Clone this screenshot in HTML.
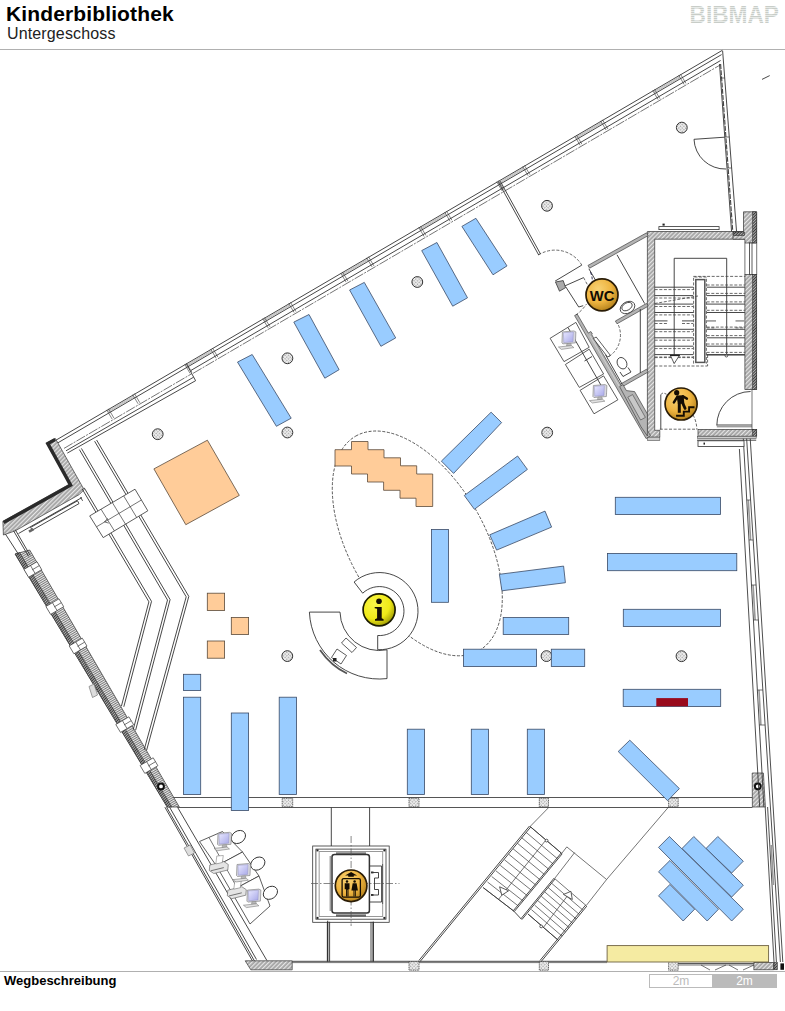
<!DOCTYPE html>
<html><head><meta charset="utf-8"><title>Kinderbibliothek</title><style>
html,body{margin:0;padding:0;background:#fff}
body{width:785px;height:1011px;position:relative;overflow:hidden;font-family:"Liberation Sans",sans-serif;color:#000}
.t1{position:absolute;left:6px;top:2px;letter-spacing:0.13px;font-size:21px;font-weight:bold;line-height:24px;white-space:nowrap;color:#000}
.t2{position:absolute;left:7px;top:25px;letter-spacing:0.14px;font-size:16px;line-height:18px;white-space:nowrap;color:#222}
.logo{position:absolute;left:689px;top:1px;font-size:24px;line-height:27px;letter-spacing:-0.1px;color:#d9dcd9;white-space:nowrap}
.hl{position:absolute;left:0;width:785px;height:1px;background:#b0b0b0}
.t3{position:absolute;left:4px;top:973px;font-size:13px;font-weight:bold;line-height:15px;white-space:nowrap;color:#000}
.sc{position:absolute;top:974px;height:12px;font-size:12px;line-height:13px;text-align:center;box-sizing:content-box}
.sc1{left:649px;width:62px;border:1px solid #bbb;background:#fff;color:#bbb}
.sc2{left:712px;width:63px;border:1px solid #bbb;background:#bbb;color:#fff}
svg{position:absolute;left:0;top:0}
.ln{stroke:#333;stroke-width:0.9;fill:none}
.lne{stroke:#2e2e2e;stroke-width:0.85;fill:none}
.lnh{stroke:#555;stroke-width:1;fill:none}
.lnt{stroke:#3a3a3a;stroke-width:0.7;fill:none}
.lng{stroke:#999;stroke-width:1.6;fill:none}
.lnd{stroke:#444;stroke-width:0.8;fill:none;stroke-dasharray:3 1.6}
.lndd{stroke:#555;stroke-width:0.7;fill:none;stroke-dasharray:7 2 1.5 2}
.lndd2{stroke:#3a3a3a;stroke-width:0.7;fill:none;stroke-dasharray:10 1.2 2 1.2}
.lnm{stroke:#333;stroke-width:0.6;fill:none}
.lnf{stroke:#777;stroke-width:0.5;fill:none}
.lnp{stroke:#333;stroke-width:0.8;fill:#fff}
.lnw{stroke:#333;stroke-width:0.9;fill:#fff}
.wall{fill:url(#hat);stroke:#333;stroke-width:0.7}
.wallw{fill:url(#hatw);stroke:#333;stroke-width:0.7}
.wallc{fill:url(#hatx);stroke:#444;stroke-width:0.8;stroke-dasharray:1.2 0.6}
.wallg{fill:#ccc;stroke:#555;stroke-width:0.6}
.wallgr{fill:#b4b4b4;stroke:#444;stroke-width:0.7}
.wbrick{fill:url(#hatd);stroke:#222;stroke-width:0.5}
.wdark{stroke:#2a2a2a;stroke-width:3.4;fill:none;stroke-linejoin:miter}
.wbox{fill:#fff;stroke:#333;stroke-width:0.7}
.wboxw{fill:#c8c8c8;stroke:#444;stroke-width:0.6}
.wboxg{fill:#ddd;stroke:#666;stroke-width:0.6}
.col{fill:url(#hatx);stroke:#333;stroke-width:1}
.bl{fill:#99ccff;stroke:#3a4a66;stroke-width:0.8}
.or{fill:#ffcc99;stroke:#5a4a3a;stroke-width:0.8}
.ye{fill:#f5eba2;stroke:#6e6242;stroke-width:0.9}
</style></head>
<body>
<div class="t1">Kinderbibliothek</div>
<div class="t2">Untergeschoss</div>
<div class="hl" style="top:49px"></div>
<div class="hl" style="top:971px"></div>
<svg width="785" height="1011" viewBox="0 0 785 1011">
<defs>
<pattern id="hat" width="3" height="3" patternUnits="userSpaceOnUse" patternTransform="rotate(45)">
<rect width="3" height="3" fill="#a4a4a4"/><rect width="1.2" height="3" fill="#e6e6e6"/></pattern>
<pattern id="hatx" width="2.4" height="2.4" patternUnits="userSpaceOnUse" patternTransform="rotate(45)">
<rect width="2.4" height="2.4" fill="#a8a8a8"/><rect width="1.1" height="2.4" fill="#eee"/><rect width="2.4" height="1.1" fill="#eee"/></pattern>
<pattern id="hatw" width="2" height="2" patternUnits="userSpaceOnUse" patternTransform="rotate(-31)">
<rect width="2" height="2" fill="#ececec"/><rect width="2" height="0.85" fill="#666"/></pattern>
<pattern id="hatd" width="2" height="2" patternUnits="userSpaceOnUse" patternTransform="rotate(45)">
<rect width="2" height="2" fill="#bdbdbd"/><rect width="1.1" height="2" fill="#3a3a3a"/></pattern>
<radialGradient id="gold" cx="0.38" cy="0.32" r="0.75">
<stop offset="0" stop-color="#f8d274"/><stop offset="0.55" stop-color="#eeb440"/><stop offset="1" stop-color="#ac7a16"/></radialGradient>
<radialGradient id="yel" cx="0.36" cy="0.32" r="0.78">
<stop offset="0" stop-color="#fbf748"/><stop offset="0.6" stop-color="#f0ea18"/><stop offset="1" stop-color="#8e8a00"/></radialGradient>
<pattern id="stripe" width="4" height="2" patternUnits="userSpaceOnUse"><rect width="4" height="2" fill="#e8ebe8"/><rect width="4" height="1" y="0" fill="#c8cdc8"/></pattern>
<linearGradient id="mon" x1="0" y1="0" x2="1" y2="1"><stop offset="0" stop-color="#e8e8ff"/><stop offset="1" stop-color="#a8a8e8"/></linearGradient>
</defs>
<line x1="55.4" y1="440.5" x2="722.2" y2="50.4" class="ln" />
<line x1="56.9" y1="443.4" x2="721.6" y2="54.6" class="ln" />
<line x1="191.0" y1="370.4" x2="720.6" y2="60.5" class="ln" />
<line x1="193.0" y1="373.4" x2="719.8" y2="65.2" class="lndd2" />
<line x1="64.0" y1="448.4" x2="191.8" y2="373.7" class="lndd2" />
<line x1="66.0" y1="450.8" x2="193.6" y2="377.2" class="ln" />
<line x1="67.3" y1="453.1" x2="195.6" y2="380.7" class="ln" />
<line x1="186.4" y1="363.8" x2="195.6" y2="380.7" class="ln" />
<line x1="106.7" y1="409.9" x2="112.1" y2="419.0" class="lnm" />
<line x1="108.5" y1="408.8" x2="113.9" y2="418.0" class="lnm" />
<line x1="132.7" y1="394.7" x2="138.1" y2="403.8" class="lnm" />
<line x1="134.5" y1="393.6" x2="139.9" y2="402.8" class="lnm" />
<line x1="108.0" y1="411.0" x2="134.0" y2="395.8" class="lnf" />
<line x1="108.0" y1="412.2" x2="134.0" y2="397.0" class="lnf" />
<line x1="184.7" y1="364.2" x2="190.1" y2="373.4" class="lnm" />
<line x1="186.5" y1="363.2" x2="191.9" y2="372.3" class="lnm" />
<line x1="210.7" y1="349.0" x2="216.1" y2="358.2" class="lnm" />
<line x1="212.5" y1="348.0" x2="217.9" y2="357.1" class="lnm" />
<line x1="186.0" y1="365.4" x2="212.0" y2="350.2" class="lnf" />
<line x1="186.0" y1="366.6" x2="212.0" y2="351.4" class="lnf" />
<line x1="262.7" y1="318.6" x2="268.1" y2="327.8" class="lnm" />
<line x1="264.5" y1="317.6" x2="269.9" y2="326.7" class="lnm" />
<line x1="288.7" y1="303.4" x2="294.1" y2="312.5" class="lnm" />
<line x1="290.5" y1="302.3" x2="295.9" y2="311.5" class="lnm" />
<line x1="264.0" y1="319.7" x2="290.0" y2="304.5" class="lnf" />
<line x1="264.0" y1="320.9" x2="290.0" y2="305.7" class="lnf" />
<line x1="340.7" y1="273.0" x2="346.1" y2="282.1" class="lnm" />
<line x1="342.5" y1="271.9" x2="347.9" y2="281.1" class="lnm" />
<line x1="366.7" y1="257.8" x2="372.1" y2="266.9" class="lnm" />
<line x1="368.5" y1="256.7" x2="373.9" y2="265.9" class="lnm" />
<line x1="342.0" y1="274.1" x2="368.0" y2="258.9" class="lnf" />
<line x1="342.0" y1="275.3" x2="368.0" y2="260.1" class="lnf" />
<line x1="418.7" y1="227.3" x2="424.1" y2="236.5" class="lnm" />
<line x1="420.5" y1="226.3" x2="425.9" y2="235.4" class="lnm" />
<line x1="444.7" y1="212.1" x2="450.1" y2="221.3" class="lnm" />
<line x1="446.5" y1="211.1" x2="451.9" y2="220.2" class="lnm" />
<line x1="420.0" y1="228.5" x2="446.0" y2="213.3" class="lnf" />
<line x1="420.0" y1="229.7" x2="446.0" y2="214.5" class="lnf" />
<line x1="496.7" y1="181.7" x2="502.1" y2="190.9" class="lnm" />
<line x1="498.5" y1="180.7" x2="503.9" y2="189.8" class="lnm" />
<line x1="522.7" y1="166.5" x2="528.1" y2="175.7" class="lnm" />
<line x1="524.5" y1="165.5" x2="529.9" y2="174.6" class="lnm" />
<line x1="498.0" y1="182.9" x2="524.0" y2="167.6" class="lnf" />
<line x1="498.0" y1="184.1" x2="524.0" y2="168.8" class="lnf" />
<line x1="574.7" y1="136.1" x2="580.1" y2="145.2" class="lnm" />
<line x1="576.5" y1="135.0" x2="581.9" y2="144.2" class="lnm" />
<line x1="600.7" y1="120.9" x2="606.1" y2="130.0" class="lnm" />
<line x1="602.5" y1="119.8" x2="607.9" y2="129.0" class="lnm" />
<line x1="576.0" y1="137.2" x2="602.0" y2="122.0" class="lnf" />
<line x1="576.0" y1="138.4" x2="602.0" y2="123.2" class="lnf" />
<line x1="652.7" y1="90.5" x2="658.1" y2="99.6" class="lnm" />
<line x1="654.5" y1="89.4" x2="659.9" y2="98.6" class="lnm" />
<line x1="678.7" y1="75.2" x2="684.1" y2="84.4" class="lnm" />
<line x1="680.5" y1="74.2" x2="685.9" y2="83.3" class="lnm" />
<line x1="654.0" y1="91.6" x2="680.0" y2="76.4" class="lnf" />
<line x1="654.0" y1="92.8" x2="680.0" y2="77.6" class="lnf" />
<line x1="722.6" y1="50.6" x2="736.6" y2="232.3" class="ln" />
<line x1="719.5" y1="64.0" x2="731.6" y2="232.0" class="ln" />
<line x1="720.6" y1="64.0" x2="732.8" y2="232.0" class="" stroke="#444" stroke-width="1.1" stroke-dasharray="5 1.2" fill="none"/>
<line x1="721.3" y1="78.0" x2="724.9" y2="78.0" class="lnt" />
<line x1="725.2" y1="137.0" x2="729.5" y2="137.0" class="lnt" />
<line x1="727.3" y1="168.0" x2="731.8" y2="168.0" class="lnt" />
<line x1="694.0" y1="139.3" x2="724.6" y2="137.2" class="ln" />
<path d="M694.0,139.3 A31,31 0 0 0 726.0,169.0" class="ln" fill="none"/>
<line x1="762.0" y1="79.4" x2="769.7" y2="75.6" class="ln" />
<line x1="498.5" y1="182.3" x2="538.7" y2="255.0" class="ln" />
<line x1="500.3" y1="181.3" x2="540.5" y2="254.0" class="ln" />
<line x1="538.2" y1="254.9" x2="540.9" y2="253.6" class="ln" />
<path d="M581.8,265.1 A31.2,31.2 0 0 0 541.2,253.4" class="lnd" fill="none"/>
<polygon points="46.4,442.9 55.4,438.5 84.1,489.7 79.3,494.5 15.3,530.8 3.4,535.0 2.9,521.3 69.7,484.0" class="wall" />
<polyline points="3.6,522.6 70.6,485.2 47.8,443.6 55.2,439.6" class="wdark" />
<line x1="80.5" y1="497.2" x2="82.6" y2="500.8" class="ln" />
<polyline points="18.5,533.5 82.0,497.5" class="ln" />
<polyline points="30.5,527.5 77.5,500.8 79.0,503.6 32.5,530.0 30.5,527.5" class="ln" />
<polyline points="29.0,531.6 33.5,529.1" class="" stroke="#666" stroke-width="2.6" fill="none"/>
<polygon points="15.1,554.0 29.7,550.0 179.3,807.0 167.2,807.0" class="wallw" />
<polygon points="15.1,554.0 19.7,552.6 171.8,807.0 167.2,807.0" class="wbrick" />
<line x1="5.4" y1="534.0" x2="18.7" y2="554.6" class="ln" />
<line x1="13.4" y1="530.5" x2="28.6" y2="556.4" class="ln" />
<line x1="15.2" y1="529.6" x2="30.2" y2="555.4" class="ln" />
<polygon points="23.9,569.4 37.0,561.7 41.7,569.6 28.6,577.3" class="wbox" />
<line x1="30.5" y1="565.5" x2="35.1" y2="573.5" class="lnt" />
<line x1="32.1" y1="569.9" x2="39.3" y2="565.6" class="lnt" />
<polygon points="45.9,606.5 59.0,598.8 63.7,606.7 50.6,614.4" class="wbox" />
<line x1="52.4" y1="602.6" x2="57.1" y2="610.6" class="lnt" />
<line x1="54.1" y1="607.0" x2="61.3" y2="602.7" class="lnt" />
<polygon points="69.2,645.9 82.3,638.2 87.0,646.1 73.9,653.8" class="wbox" />
<line x1="75.8" y1="642.0" x2="80.5" y2="650.0" class="lnt" />
<line x1="77.5" y1="646.4" x2="84.7" y2="642.1" class="lnt" />
<polygon points="115.8,724.5 128.9,716.8 133.6,724.7 120.5,732.4" class="wbox" />
<line x1="122.4" y1="720.6" x2="127.0" y2="728.6" class="lnt" />
<line x1="124.0" y1="725.0" x2="131.2" y2="720.7" class="lnt" />
<polygon points="140.1,765.5 153.2,757.8 157.9,765.7 144.8,773.4" class="wbox" />
<line x1="146.6" y1="761.6" x2="151.3" y2="769.6" class="lnt" />
<line x1="148.3" y1="766.0" x2="155.5" y2="761.7" class="lnt" />
<polygon points="89.0,686.5 94.0,684.0 97.5,695.0 92.5,697.5" class="wboxg" />
<circle cx="161.0" cy="786.4" r="2.9" class="" fill="#fff" stroke="#111" stroke-width="2"/>
<line x1="164.9" y1="807.2" x2="252.5" y2="961.0" class="ln" />
<line x1="166.6" y1="807.2" x2="254.5" y2="961.0" class="ln" />
<line x1="169.6" y1="807.2" x2="256.5" y2="959.5" class="ln" />
<line x1="177.5" y1="807.2" x2="266.9" y2="960.5" class="ln" />
<polygon points="184.0,848.0 190.0,845.0 194.5,853.0 188.5,856.0" class="wboxg" />
<polygon points="245.2,960.8 292.2,960.8 292.2,969.8 250.8,969.8" class="wall" />
<polyline points="84.2,487.8 151.5,601.4 123.8,706.8" class="ln" />
<polyline points="82.2,489.0 148.9,601.8 121.4,706.2" class="ln" />
<polyline points="81.4,448.4 170.1,599.6 135.6,730.3" class="ln" />
<polyline points="79.4,449.6 167.5,600.0 133.2,729.7" class="ln" />
<polyline points="96.6,440.0 188.8,596.4 146.6,750.3" class="ln" />
<polyline points="94.6,441.2 186.2,596.8 144.2,749.7" class="ln" />
<polygon points="89.7,515.9 135.0,489.2 147.8,510.8 103.2,537.6" class="lnp" />
<line x1="96.5" y1="526.8" x2="141.4" y2="500.0" class="lnt" />
<line x1="101.0" y1="509.2" x2="114.4" y2="530.9" class="lnt" />
<line x1="112.3" y1="502.5" x2="125.5" y2="524.2" class="lnt" />
<line x1="123.7" y1="495.9" x2="136.7" y2="517.5" class="lnt" />
<polyline points="107.7,518.3 104.5,521.9 108.7,523.1" class="lnt" />
<line x1="173.0" y1="797.5" x2="752.5" y2="797.5" class="lnh" />
<line x1="178.0" y1="807.5" x2="752.5" y2="807.5" class="lnh" />
<rect x="282.2" y="798.2" width="10.5" height="8.6" class="wallc" />
<rect x="409.0" y="798.2" width="10.0" height="8.6" class="wallc" />
<rect x="539.3" y="798.2" width="9.2" height="8.6" class="wallc" />
<rect x="668.6" y="798.2" width="9.6" height="8.6" class="wallc" />
<polygon points="752.2,773.0 763.4,773.0 765.4,807.0 752.4,807.0" class="wall" />
<circle cx="757.8" cy="786.3" r="2.9" class="" fill="#fff" stroke="#111" stroke-width="2"/>
<line x1="292.2" y1="961.3" x2="668.6" y2="961.3" class="ln" />
<line x1="292.2" y1="962.6" x2="607.0" y2="962.6" class="lnt" />
<rect x="409.0" y="961.6" width="10.0" height="8.6" class="wallc" />
<rect x="539.3" y="961.6" width="9.2" height="8.6" class="wallc" />
<rect x="668.6" y="961.6" width="9.6" height="8.6" class="wallc" />
<rect x="753.9" y="962.4" width="19.7" height="7.4" class="wall" />
<rect x="774.0" y="962.4" width="3.4" height="7.4" class="wbrick" />
<rect x="780.4" y="963.4" width="3.6" height="6.4" class="" fill="#111"/>
<line x1="678.2" y1="963.6" x2="753.8" y2="963.6" class="ln" />
<line x1="678.2" y1="965.0" x2="753.8" y2="965.0" class="lnt" />
<polyline points="701.0,965.0 710.0,970.0" class="lnt" />
<polyline points="726.0,965.0 715.0,970.0" class="lnt" />
<polyline points="729.0,965.0 738.0,970.0" class="lnt" />
<polyline points="754.0,965.0 743.0,970.0" class="lnt" />
<line x1="739.4" y1="449.0" x2="759.7" y2="807.0" class="lne" />
<line x1="743.2" y1="436.5" x2="763.9" y2="807.0" class="lne" />
<line x1="746.5" y1="436.5" x2="780.4" y2="962.0" class="lne" />
<line x1="750.1" y1="436.5" x2="782.8" y2="962.0" class="lne" />
<line x1="765.2" y1="807.0" x2="774.0" y2="962.0" class="lne" />
<line x1="767.6" y1="807.0" x2="776.4" y2="962.0" class="lne" />
<line x1="748.3" y1="500.0" x2="750.6" y2="540.0" class="lng" />
<line x1="746.7" y1="500.0" x2="750.6" y2="500.0" class="lnt" />
<line x1="749.0" y1="540.0" x2="753.2" y2="540.0" class="lnt" />
<line x1="753.1" y1="585.0" x2="755.1" y2="620.0" class="lng" />
<line x1="751.5" y1="585.0" x2="756.1" y2="585.0" class="lnt" />
<line x1="753.5" y1="620.0" x2="758.3" y2="620.0" class="lnt" />
<line x1="759.0" y1="690.0" x2="760.9" y2="725.0" class="lng" />
<line x1="757.4" y1="690.0" x2="762.9" y2="690.0" class="lnt" />
<line x1="759.3" y1="725.0" x2="765.1" y2="725.0" class="lnt" />
<line x1="771.2" y1="845.0" x2="773.4" y2="885.0" class="lng" />
<polygon points="647.4,231.5 744.9,231.5 744.9,239.2 654.7,239.2 654.7,430.3 659.8,430.3 659.8,437.2 647.4,437.2" class="wall" />
<rect x="647.4" y="437.2" width="12.4" height="3.4" class="wallg" />
<polygon points="743.5,211.8 756.7,211.8 756.7,243.0 744.9,243.0 744.9,239.2 733.0,239.2 733.0,231.5 743.5,231.5" class="wall" />
<rect x="744.9" y="274.5" width="11.8" height="115.1" class="wall" />
<rect x="752.6" y="211.8" width="4.1" height="31.2" class="wbrick" />
<rect x="752.6" y="274.5" width="4.1" height="115.1" class="wbrick" />
<rect x="733.5" y="232.0" width="11.0" height="3.6" class="wbrick" />
<line x1="744.9" y1="243.0" x2="744.9" y2="274.5" class="lnt" />
<line x1="756.7" y1="243.0" x2="756.7" y2="274.5" class="lnt" />
<rect x="749.6" y="243.0" width="2.4" height="31.5" class="lnp" />
<rect x="698.0" y="429.4" width="58.7" height="6.8" class="wall" />
<rect x="752.6" y="429.4" width="4.1" height="6.8" class="wbrick" />
<rect x="697.4" y="436.4" width="58.8" height="2.2" class="wallg" />
<line x1="697.0" y1="440.2" x2="756.2" y2="440.2" class="ln" />
<rect x="698.0" y="440.8" width="46.0" height="5.8" class="lnp" />
<rect x="703.5" y="442.6" width="1.5" height="2.0" class="" fill="#222"/>
<rect x="658.9" y="226.6" width="60.2" height="3.0" class="lnp" />
<rect x="662.5" y="223.6" width="2.2" height="2.0" class="" fill="#222"/>
<polyline points="674.2,363.0 674.2,258.3 726.7,258.3 726.7,355.0" class="ln" />
<polyline points="693.6,363.6 693.6,277.0 706.4,277.0 706.4,363.6" class="lnd" />
<rect x="695.8" y="279.6" width="9.0" height="82.8" class="" fill="#fff" stroke="#555" stroke-width="1.5"/>
<line x1="693.3" y1="276.4" x2="744.9" y2="276.4" class="lnd" />
<line x1="654.7" y1="287.2" x2="693.3" y2="287.2" class="ln" />
<line x1="654.7" y1="289.6" x2="693.3" y2="289.6" class="lnd" />
<line x1="706.7" y1="287.2" x2="744.9" y2="287.2" class="ln" />
<line x1="706.7" y1="285.0" x2="744.9" y2="285.0" class="lnd" />
<line x1="654.7" y1="295.6" x2="693.3" y2="295.6" class="ln" />
<line x1="654.7" y1="298.0" x2="693.3" y2="298.0" class="lnd" />
<line x1="706.7" y1="295.6" x2="744.9" y2="295.6" class="ln" />
<line x1="706.7" y1="293.4" x2="744.9" y2="293.4" class="lnd" />
<line x1="654.7" y1="304.1" x2="693.3" y2="304.1" class="ln" />
<line x1="654.7" y1="306.5" x2="693.3" y2="306.5" class="lnd" />
<line x1="706.7" y1="304.1" x2="744.9" y2="304.1" class="ln" />
<line x1="706.7" y1="301.9" x2="744.9" y2="301.9" class="lnd" />
<line x1="654.7" y1="312.5" x2="693.3" y2="312.5" class="ln" />
<line x1="654.7" y1="314.9" x2="693.3" y2="314.9" class="lnd" />
<line x1="706.7" y1="312.5" x2="744.9" y2="312.5" class="ln" />
<line x1="706.7" y1="310.3" x2="744.9" y2="310.3" class="lnd" />
<line x1="654.7" y1="320.9" x2="667.5" y2="320.9" class="ln" />
<line x1="682.0" y1="320.9" x2="693.3" y2="320.9" class="ln" />
<line x1="654.7" y1="323.5" x2="667.5" y2="323.5" class="lnd" />
<line x1="682.0" y1="323.5" x2="693.3" y2="323.5" class="lnd" />
<line x1="706.7" y1="320.9" x2="716.0" y2="320.9" class="lng" />
<line x1="735.5" y1="320.9" x2="744.9" y2="320.9" class="lng" />
<line x1="706.7" y1="327.9" x2="716.0" y2="327.9" class="lnd" />
<line x1="735.5" y1="327.9" x2="744.9" y2="327.9" class="lnd" />
<line x1="654.7" y1="329.3" x2="693.3" y2="329.3" class="ln" />
<line x1="654.7" y1="331.7" x2="693.3" y2="331.7" class="lnd" />
<line x1="706.7" y1="329.3" x2="744.9" y2="329.3" class="ln" />
<line x1="706.7" y1="327.1" x2="744.9" y2="327.1" class="lnd" />
<line x1="654.7" y1="337.8" x2="693.3" y2="337.8" class="ln" />
<line x1="654.7" y1="340.2" x2="693.3" y2="340.2" class="lnd" />
<line x1="706.7" y1="337.8" x2="744.9" y2="337.8" class="ln" />
<line x1="706.7" y1="335.6" x2="744.9" y2="335.6" class="lnd" />
<line x1="654.7" y1="346.2" x2="693.3" y2="346.2" class="ln" />
<line x1="654.7" y1="348.6" x2="693.3" y2="348.6" class="lnd" />
<line x1="706.7" y1="346.2" x2="744.9" y2="346.2" class="ln" />
<line x1="706.7" y1="344.0" x2="744.9" y2="344.0" class="lnd" />
<line x1="654.7" y1="354.6" x2="693.3" y2="354.6" class="ln" />
<line x1="654.7" y1="357.0" x2="693.3" y2="357.0" class="lnd" />
<line x1="706.7" y1="354.6" x2="744.9" y2="354.6" class="ln" />
<line x1="706.7" y1="352.4" x2="744.9" y2="352.4" class="lnd" />
<line x1="654.7" y1="357.6" x2="693.3" y2="357.6" class="lnd" />
<line x1="654.7" y1="366.0" x2="707.6" y2="366.0" class="lnd" />
<line x1="707.6" y1="355.0" x2="707.6" y2="366.0" class="lnd" />
<line x1="654.7" y1="303.5" x2="698.0" y2="296.0" class="lnd" />
<polygon points="670.4,355.4 679.4,355.4 674.2,363.6" class="lnp" />
<line x1="670.0" y1="355.4" x2="679.8" y2="355.4" class="" stroke="#222" stroke-width="1.4"/>
<circle cx="726.4" cy="355.6" r="1.4" class="lnp" />
<line x1="706.7" y1="355.0" x2="744.9" y2="355.0" class="ln" />
<path d="M750.6,391.5 A34,34 0 0 0 716.8,425.5" class="ln" fill="none"/>
<line x1="716.8" y1="425.0" x2="752.0" y2="425.0" class="ln" />
<line x1="716.8" y1="426.8" x2="752.0" y2="426.8" class="lnt" />
<line x1="752.0" y1="389.6" x2="752.0" y2="429.4" class="lnt" />
<line x1="659.8" y1="429.2" x2="697.0" y2="429.2" class="lnd" />
<line x1="660.8" y1="395.0" x2="660.8" y2="429.4" class="ln" />
<path d="M660.8,395.0 C661.5,392.6 664,392.8 666.5,394.2" class="lnd" fill="none"/>
<path d="M693.0,415.0 C695.5,419 696.5,424 697.0,429.4" class="lnd" fill="none"/>
<polygon points="589.6,268.2 648.2,235.6 646.6,232.8 588.0,265.4" class="wallgr" />
<polygon points="617.0,323.8 648.2,306.2 646.6,303.4 615.4,321.0" class="wallgr" />
<polygon points="620.8,387.6 648.2,372.0 646.6,369.2 619.2,384.8" class="wallgr" />
<polygon points="574.6,315.6 577.2,314.0 588.3,333.1 590.9,331.5 592.4,334.1 591.7,334.6 623.3,389.0 650.5,435.7 646.1,438.6" class="wallgr" />
<line x1="589.8" y1="335.6" x2="620.5" y2="388.3" class="" stroke="#eee" stroke-width="0.5"/>
<polygon points="619.6,386.6 623.0,384.6 626.4,390.6 634.6,391.6 647.4,414.0 647.4,436.0 641.0,426.8" class="wallgr" />
<polygon points="627.8,397.2 632.6,394.6 645.4,417.4 640.6,420.0" class="wboxw" />
<line x1="617.0" y1="254.8" x2="644.7" y2="303.6" class="ln" />
<line x1="588.9" y1="268.8" x2="603.0" y2="293.0" class="ln" />
<line x1="640.3" y1="309.0" x2="640.3" y2="373.0" class="ln" />
<line x1="622.0" y1="384.0" x2="605.5" y2="354.8" class="ln" />
<polygon points="593.4,338.6 596.2,337.0 610.4,355.4 607.6,357.0" class="lnp" />
<path d="M618.4,325.1 A25.5,25.5 0 0 1 608.8,356.6" class="lnd" fill="none"/>
<path d="M590.5,272.0 C592.5,277 592.8,281 591.5,286.0" class="lnd" fill="none" style="stroke:#335;stroke-width:1"/>
<path d="M575.9,315.0 C580,312 584,308 586.5,304.0" class="lnd" fill="none"/>
<line x1="555.1" y1="281.1" x2="581.8" y2="265.1" class="ln" />
<line x1="563.5" y1="286.5" x2="583.6" y2="277.6" class="ln" />
<line x1="583.6" y1="277.6" x2="587.6" y2="285.1" class="lnd" />
<polyline points="565.8,286.9 578.7,307.0 583.2,305.7" class="ln" />
<polygon points="555.5,282.0 563.2,280.6 565.6,287.6 559.5,291.2" class="" fill="#aaa" stroke="#333" stroke-width="0.8"/>
<ellipse cx="627.5" cy="307.5" rx="7.8" ry="5.6" transform="rotate(-30 627.5 307.5)" class="lnp"/>
<ellipse cx="627.0" cy="306.6" rx="5.6" ry="3.6" transform="rotate(-30 627.0 306.6)" class="lnp"/>
<ellipse cx="622.0" cy="363.2" rx="4.6" ry="6.0" transform="rotate(-28 622.0 363.2)" class="lnp"/>
<polyline points="620.0,372.0 623.0,376.5 631.0,372.0 628.0,367.5" class="ln" />
<polygon points="550.1,338.3 575.9,322.4 589.2,347.3 564.0,361.6" class="lnp" />
<polygon points="565.4,364.5 589.2,349.2 603.6,374.0 579.3,387.4" class="lnp" />
<polygon points="580.1,390.3 603.6,375.9 617.9,399.8 594.0,413.8" class="lnp" />
<line x1="568.0" y1="327.5" x2="606.0" y2="394.0" class="ln" />
<line x1="584.5" y1="361.0" x2="592.0" y2="356.5" class="ln" />
<g transform="translate(568.4 339.4) scale(1.00)">
<path d="M-6,-7.5 L5.5,-8.5 L7.5,-7.5 L7,3.5 L-5.5,4.5 L-6.5,3.5 Z" fill="#d8d8e0" stroke="#777" stroke-width="0.6"/>
<path d="M-5,-6.6 L5,-7.4 L4.6,2.4 L-4.6,3.2 Z" fill="url(#mon)" stroke="#8888bb" stroke-width="0.4"/>
<path d="M-1.5,4.2 L2.5,3.9 L3.0,6.4 L-2,6.8 Z" fill="#bbb" stroke="#777" stroke-width="0.4"/>
<path d="M-10,7.6 L3,6.2 L5.5,8.2 L-7,10.0 Z" fill="#e2e2e2" stroke="#666" stroke-width="0.5"/>
</g>
<g transform="translate(599.4 393.0) scale(1.00)">
<path d="M-6,-7.5 L5.5,-8.5 L7.5,-7.5 L7,3.5 L-5.5,4.5 L-6.5,3.5 Z" fill="#d8d8e0" stroke="#777" stroke-width="0.6"/>
<path d="M-5,-6.6 L5,-7.4 L4.6,2.4 L-4.6,3.2 Z" fill="url(#mon)" stroke="#8888bb" stroke-width="0.4"/>
<path d="M-1.5,4.2 L2.5,3.9 L3.0,6.4 L-2,6.8 Z" fill="#bbb" stroke="#777" stroke-width="0.4"/>
<path d="M-10,7.6 L3,6.2 L5.5,8.2 L-7,10.0 Z" fill="#e2e2e2" stroke="#666" stroke-width="0.5"/>
</g>
<circle cx="681.8" cy="127.6" r="5.4" class="col" />
<circle cx="547.0" cy="205.8" r="5.4" class="col" />
<circle cx="417.3" cy="282.0" r="5.4" class="col" />
<circle cx="287.4" cy="358.3" r="5.4" class="col" />
<circle cx="157.7" cy="434.2" r="5.4" class="col" />
<circle cx="287.4" cy="432.5" r="5.4" class="col" />
<circle cx="547.2" cy="432.6" r="5.4" class="col" />
<circle cx="287.3" cy="656.1" r="5.4" class="col" />
<circle cx="546.5" cy="656.1" r="5.4" class="col" />
<circle cx="681.5" cy="656.2" r="5.4" class="col" />
<ellipse cx="417.3" cy="543.4" rx="123.7" ry="67.5" transform="rotate(-119.9 417.3 543.4)" class="lnd" fill="none"/>
<circle cx="379.4" cy="611.1" r="38.6" class="" fill="#fff"/>
<path d="M354.1,582.0 A38.6,38.6 0 1 1 377.7,649.7 L377.7,635.5 A24.5,24.5 0 1 0 362.7,593.2 Z" class="lnw"/>
<path d="M309.4,612.1 A70,70 0 0 0 387.0,678.6 L387.0,649.8 A39.4,39.4 0 0 1 340.0,612.1 Z" class="lnw"/>
<polygon points="341.5,643.0 346.0,638.0 356.5,647.5 352.0,652.5" class="lnp" />
<polygon points="331.5,657.5 337.0,649.0 346.5,655.5 341.0,664.0" class="lnp" />
<rect x="333.0" y="658.0" width="3.5" height="3.5" class="" fill="#222"/>
<path d="M320.0,650.0 Q331,666 347.0,673.5" fill="none" stroke="#555" stroke-width="1.8"/>
<line x1="331.3" y1="807.5" x2="331.3" y2="846.0" class="ln" />
<line x1="369.6" y1="807.5" x2="369.6" y2="846.0" class="ln" />
<rect x="312.7" y="846.0" width="76.5" height="76.3" class="lnp" />
<rect x="315.9" y="849.1" width="70.1" height="70.1" class="lnp" />
<rect x="319.1" y="851.7" width="63.7" height="64.9" class="" fill="none" stroke="#555" stroke-width="0.6"/>
<rect x="332.0" y="854.6" width="37.4" height="58.3" class="" rx="2.5" fill="#fff" stroke="#333" stroke-width="1.5"/>
<line x1="336.0" y1="853.2" x2="366.0" y2="853.2" class="" stroke="#666" stroke-width="1.6"/>
<line x1="336.0" y1="915.6" x2="366.0" y2="915.6" class="" stroke="#666" stroke-width="2.4"/>
<line x1="330.2" y1="856.0" x2="330.2" y2="911.0" class="lnt" />
<rect x="316.5" y="849.4" width="2.0" height="2.0" class="" fill="#222"/>
<rect x="383.4" y="849.4" width="2.0" height="2.0" class="" fill="#222"/>
<rect x="316.5" y="916.9" width="2.0" height="2.0" class="" fill="#222"/>
<rect x="383.4" y="916.9" width="2.0" height="2.0" class="" fill="#222"/>
<line x1="311.0" y1="883.5" x2="399.5" y2="883.5" class="lndd" />
<line x1="351.1" y1="836.0" x2="351.1" y2="926.0" class="lndd" />
<polyline points="369.8,866.0 381.6,866.0 381.6,902.0 369.8,902.0" class="ln" />
<polyline points="371.0,872.5 378.5,872.5 378.5,878.0 374.5,878.0 374.5,889.5 378.5,889.5 378.5,895.0 371.0,895.0" class="ln" />
<line x1="382.6" y1="864.0" x2="382.6" y2="904.0" class="lnt" />
<rect x="371.0" y="871.5" width="2.5" height="1.9" class="" fill="#333"/>
<rect x="371.0" y="894.0" width="2.5" height="1.9" class="" fill="#333"/>
<line x1="327.4" y1="921.8" x2="327.4" y2="961.5" class="ln" />
<line x1="329.6" y1="921.8" x2="329.6" y2="961.5" class="ln" />
<line x1="371.0" y1="921.8" x2="371.0" y2="961.5" class="ln" />
<line x1="373.3" y1="921.8" x2="373.3" y2="961.5" class="ln" />
<line x1="327.6" y1="921.8" x2="327.6" y2="961.5" class="" stroke="#333" stroke-width="1.3"/>
<line x1="373.2" y1="921.8" x2="373.2" y2="961.5" class="" stroke="#333" stroke-width="1.3"/>
<line x1="420.1" y1="961.5" x2="530.7" y2="827.0" class="ln" />
<line x1="418.9" y1="960.5" x2="529.5" y2="826.0" class="ln" />
<line x1="548.5" y1="807.7" x2="530.1" y2="826.5" class="lnt" />
<polyline points="530.1,826.5 561.7,853.4" class="ln" />
<polyline points="483.2,887.6 513.8,911.1" class="ln" />
<line x1="530.1" y1="826.5" x2="561.7" y2="853.4" class="lnt" />
<line x1="525.8" y1="832.1" x2="557.3" y2="858.6" class="lnt" />
<line x1="521.6" y1="837.6" x2="553.0" y2="863.9" class="lnt" />
<line x1="517.3" y1="843.2" x2="548.6" y2="869.1" class="lnt" />
<line x1="513.0" y1="848.7" x2="544.3" y2="874.4" class="lnt" />
<line x1="508.8" y1="854.3" x2="539.9" y2="879.6" class="lnt" />
<line x1="504.5" y1="859.8" x2="535.6" y2="884.9" class="lnt" />
<line x1="500.3" y1="865.4" x2="531.2" y2="890.1" class="lnt" />
<line x1="496.0" y1="870.9" x2="526.9" y2="895.4" class="lnt" />
<line x1="491.7" y1="876.5" x2="522.5" y2="900.6" class="lnt" />
<line x1="487.5" y1="882.0" x2="518.2" y2="905.9" class="lnt" />
<line x1="483.2" y1="887.6" x2="513.8" y2="911.1" class="lnt" />
<line x1="545.9" y1="840.0" x2="498.5" y2="899.4" class="lnt" />
<line x1="561.2" y1="853.0" x2="513.3" y2="910.7" class="ln" />
<line x1="562.2" y1="853.8" x2="514.3" y2="911.5" class="ln" />
<polyline points="513.8,911.1 521.4,919.2" class="ln" />
<line x1="521.9" y1="919.6" x2="555.1" y2="878.9" class="ln" />
<line x1="520.9" y1="918.8" x2="554.1" y2="878.1" class="ln" />
<line x1="554.6" y1="878.5" x2="574.6" y2="852.6" class="lnt" />
<polyline points="561.7,853.4 566.8,846.9" class="lnt" />
<line x1="554.6" y1="878.5" x2="586.2" y2="905.6" class="lnt" />
<line x1="551.3" y1="883.0" x2="582.8" y2="910.0" class="lnt" />
<line x1="548.0" y1="887.4" x2="579.3" y2="914.4" class="lnt" />
<line x1="544.7" y1="891.9" x2="575.9" y2="918.7" class="lnt" />
<line x1="541.4" y1="896.3" x2="572.5" y2="923.1" class="lnt" />
<line x1="538.0" y1="900.8" x2="569.0" y2="927.5" class="lnt" />
<line x1="534.7" y1="905.2" x2="565.6" y2="931.9" class="lnt" />
<line x1="531.4" y1="909.6" x2="562.1" y2="936.2" class="lnt" />
<line x1="528.1" y1="914.1" x2="558.7" y2="940.6" class="lnt" />
<line x1="570.4" y1="892.0" x2="543.4" y2="927.4" class="lnt" />
<polyline points="528.1,914.1 558.7,940.6" class="ln" />
<polyline points="566.8,846.9 606.6,879.5 586.2,905.6" class="lnt" />
<line x1="669.0" y1="806.5" x2="606.6" y2="879.5" class="lnt" />
<line x1="585.6" y1="905.1" x2="540.0" y2="960.5" class="ln" />
<line x1="586.8" y1="906.1" x2="541.2" y2="961.5" class="ln" />
<polygon points="501.8,895.2 499.6,886.8 508.6,890.8" class="lnp" />
<polygon points="570.9,891.3 563.5,894.5 572.3,899.5" class="lnp" />
<circle cx="546.6" cy="840.6" r="1.4" class="lnp" />
<circle cx="541.2" cy="926.4" r="1.4" class="lnp" />
<polygon points="199.5,841.5 222.5,831.5 242.5,852.0 216.5,866.0" class="lnp" />
<polygon points="216.5,866.0 242.5,852.0 259.0,876.0 231.0,891.0" class="lnp" />
<polygon points="231.0,891.0 259.0,876.0 270.0,906.0 250.0,924.0" class="lnp" />
<line x1="209.0" y1="837.5" x2="240.0" y2="893.0" class="lnt" />
<ellipse cx="238.4" cy="837.0" rx="7.6" ry="6.0" transform="rotate(-35 238.4 837.0)" class="lnw"/>
<ellipse cx="257.8" cy="863.6" rx="7.6" ry="6.0" transform="rotate(-35 257.8 863.6)" class="lnw"/>
<ellipse cx="270.4" cy="892.8" rx="7.6" ry="6.0" transform="rotate(-35 270.4 892.8)" class="lnw"/>
<g transform="translate(218.8 867.0)">
<path d="M-9,-2 L5,-5.5 L9.5,-2.5 L9,3 L-5,6.5 L-9.5,3.5 Z" fill="#e4e4e4" stroke="#555" stroke-width="0.6"/>
<path d="M-2,-11 L4.5,-11.5 L3.5,-4.5 L-3,-3 Z" fill="#fff" stroke="#666" stroke-width="0.5"/>
<path d="M-8,3.8 L5,0.6" stroke="#555" stroke-width="0.8" fill="none"/>
</g>
<g transform="translate(236.8 892.2)">
<path d="M-9,-2 L5,-5.5 L9.5,-2.5 L9,3 L-5,6.5 L-9.5,3.5 Z" fill="#e4e4e4" stroke="#555" stroke-width="0.6"/>
<path d="M-2,-11 L4.5,-11.5 L3.5,-4.5 L-3,-3 Z" fill="#fff" stroke="#666" stroke-width="0.5"/>
<path d="M-8,3.8 L5,0.6" stroke="#555" stroke-width="0.8" fill="none"/>
</g>
<g transform="translate(224.0 840.8) scale(1.00)">
<path d="M-6,-7.5 L5.5,-8.5 L7.5,-7.5 L7,3.5 L-5.5,4.5 L-6.5,3.5 Z" fill="#d8d8e0" stroke="#777" stroke-width="0.6"/>
<path d="M-5,-6.6 L5,-7.4 L4.6,2.4 L-4.6,3.2 Z" fill="url(#mon)" stroke="#8888bb" stroke-width="0.4"/>
<path d="M-1.5,4.2 L2.5,3.9 L3.0,6.4 L-2,6.8 Z" fill="#bbb" stroke="#777" stroke-width="0.4"/>
<path d="M-10,7.6 L3,6.2 L5.5,8.2 L-7,10.0 Z" fill="#e2e2e2" stroke="#666" stroke-width="0.5"/>
</g>
<g transform="translate(243.0 872.0) scale(1.00)">
<path d="M-6,-7.5 L5.5,-8.5 L7.5,-7.5 L7,3.5 L-5.5,4.5 L-6.5,3.5 Z" fill="#d8d8e0" stroke="#777" stroke-width="0.6"/>
<path d="M-5,-6.6 L5,-7.4 L4.6,2.4 L-4.6,3.2 Z" fill="url(#mon)" stroke="#8888bb" stroke-width="0.4"/>
<path d="M-1.5,4.2 L2.5,3.9 L3.0,6.4 L-2,6.8 Z" fill="#bbb" stroke="#777" stroke-width="0.4"/>
<path d="M-10,7.6 L3,6.2 L5.5,8.2 L-7,10.0 Z" fill="#e2e2e2" stroke="#666" stroke-width="0.5"/>
</g>
<g transform="translate(253.4 897.6) scale(1.00)">
<path d="M-6,-7.5 L5.5,-8.5 L7.5,-7.5 L7,3.5 L-5.5,4.5 L-6.5,3.5 Z" fill="#d8d8e0" stroke="#777" stroke-width="0.6"/>
<path d="M-5,-6.6 L5,-7.4 L4.6,2.4 L-4.6,3.2 Z" fill="url(#mon)" stroke="#8888bb" stroke-width="0.4"/>
<path d="M-1.5,4.2 L2.5,3.9 L3.0,6.4 L-2,6.8 Z" fill="#bbb" stroke="#777" stroke-width="0.4"/>
<path d="M-10,7.6 L3,6.2 L5.5,8.2 L-7,10.0 Z" fill="#e2e2e2" stroke="#666" stroke-width="0.5"/>
</g>
<line x1="327.7" y1="920.7" x2="327.7" y2="961.0" class="ln" />
<polygon points="237.5,362.1 252.2,354.5 291.2,418.2 276.4,426.3" class="bl" />
<polygon points="293.8,322.1 309.0,314.5 339.1,369.7 324.8,378.2" class="bl" />
<polygon points="349.6,290.0 364.3,282.4 395.7,337.9 380.9,346.3" class="bl" />
<polygon points="421.7,250.6 436.9,242.5 467.5,297.8 452.7,306.2" class="bl" />
<polygon points="461.9,226.4 475.9,218.3 507.0,265.9 493.0,274.8" class="bl" />
<polygon points="441.4,461.1 491.1,412.2 501.6,422.6 453.6,473.4" class="bl" />
<polygon points="464.3,495.5 517.6,456.0 527.4,469.4 474.4,509.3" class="bl" />
<polygon points="489.7,534.8 545.0,511.1 551.6,527.1 496.6,550.1" class="bl" />
<polygon points="499.4,574.3 563.6,566.1 565.4,582.7 501.9,590.8" class="bl" />
<rect x="503.2" y="617.6" width="65.5" height="16.8" class="bl" />
<rect x="463.4" y="649.2" width="73.2" height="17.3" class="bl" />
<rect x="551.3" y="649.2" width="33.4" height="17.3" class="bl" />
<rect x="431.5" y="529.5" width="17.0" height="72.8" class="bl" />
<rect x="615.3" y="497.3" width="105.3" height="17.3" class="bl" />
<rect x="607.4" y="553.4" width="129.4" height="17.3" class="bl" />
<rect x="623.3" y="609.3" width="97.3" height="17.2" class="bl" />
<rect x="623.2" y="689.3" width="97.5" height="17.3" class="bl" />
<rect x="656.3" y="698.1" width="31.7" height="8.2" class="" fill="#990a1c"/>
<polygon points="618.2,751.5 629.8,740.2 679.4,788.6 667.6,800.7" class="bl" />
<rect x="183.4" y="674.3" width="17.3" height="16.3" class="bl" />
<rect x="183.4" y="697.2" width="17.3" height="97.3" class="bl" />
<rect x="231.3" y="713.0" width="17.3" height="97.6" class="bl" />
<rect x="279.2" y="697.2" width="17.3" height="97.3" class="bl" />
<rect x="407.3" y="729.2" width="17.3" height="65.3" class="bl" />
<rect x="471.3" y="729.2" width="17.3" height="65.3" class="bl" />
<rect x="527.3" y="729.2" width="17.3" height="65.3" class="bl" />
<polygon points="658.5,895.8 669.9,884.5 694.6,909.2 683.2,921.0" class="bl" />
<polygon points="658.5,871.8 669.9,860.5 718.5,909.2 707.2,921.0" class="bl" />
<polygon points="706.0,848.5 717.8,836.5 743.3,861.2 731.7,873.0" class="bl" />
<polygon points="682.0,848.5 693.8,836.5 743.3,885.2 731.7,897.0" class="bl" />
<polygon points="658.5,847.4 669.4,836.5 743.3,909.2 731.7,921.0" class="bl" />
<rect x="607.1" y="945.6" width="161.5" height="16.4" class="ye" />
<polygon points="153.9,468.9 207.4,440.2 239.3,495.4 185.8,524.7" class="or" />
<rect x="207.3" y="593.2" width="17.3" height="17.3" class="or" />
<rect x="231.3" y="617.4" width="17.3" height="17.1" class="or" />
<rect x="207.3" y="641.0" width="17.3" height="17.2" class="or" />
<polygon points="335.0,449.7 351.5,449.7 351.5,441.5 368.0,441.5 368.0,449.7 384.0,449.7 384.0,457.8 400.5,457.8 400.5,465.8 416.7,465.8 416.7,474.0 432.7,474.0 432.7,506.5 416.0,506.5 416.0,498.2 400.0,498.2 400.0,490.3 383.6,490.3 383.6,482.0 367.5,482.0 367.5,474.0 351.5,474.0 351.5,466.0 335.0,466.0" class="or" />
<circle cx="602.0" cy="294.9" r="16.0" class="" fill="url(#gold)" stroke="#2a1c06" stroke-width="1.7"/>
<text x="589.8" y="300.7" font-family="Liberation Sans, sans-serif" font-weight="bold" font-size="15" textLength="24.6" lengthAdjust="spacingAndGlyphs" fill="#120c02">WC</text>
<circle cx="681.1" cy="404.0" r="16.0" class="" fill="url(#gold)" stroke="#2a1c06" stroke-width="1.7"/>
<g transform="translate(681.1 404.0)" fill="#140d03" stroke="none">
<circle cx="-4.4" cy="-11.3" r="2.6"/>
<path d="M-4.6,-8.5 L2.6,-8.8 L3.2,-0.2 L-3.3,-0.2 Z"/>
<path d="M-3.8,-7.2 L-7.2,-1.6" stroke="#140d03" stroke-width="2.5" stroke-linecap="round" fill="none"/>
<path d="M1.8,-7.6 L5.8,-5.4" stroke="#140d03" stroke-width="2.5" stroke-linecap="round" fill="none"/>
<rect x="-3.3" y="-1.0" width="3.0" height="9.8"/>
<path d="M1.6,-0.8 L4.0,4.4" stroke="#140d03" stroke-width="2.8" stroke-linecap="round" fill="none"/>
<path d="M-5.0,11.8 L2.7,11.8 L2.7,7.6 L8.0,7.6 L8.0,3.3 L13.4,3.3" stroke="#140d03" stroke-width="1.9" fill="none"/>
</g>
<circle cx="351.1" cy="885.8" r="15.8" class="" fill="url(#gold)" stroke="#2a1c06" stroke-width="1.7"/>
<g transform="translate(351.1 885.8)" fill="#140d03" stroke="none">
<path d="M0,-13.9 L6.0,-10.2 L2.7,-10.2 L2.7,-9.0 L-2.9,-9.0 L-2.9,-10.2 L-6.0,-10.2 Z"/>
<rect x="-9.0" y="-7.2" width="18.3" height="18.5" fill="none" stroke="#140d03" stroke-width="1.3" rx="1.6"/>
<circle cx="-4.1" cy="-4.3" r="1.25"/><circle cx="3.5" cy="-4.3" r="1.25"/>
<path d="M-6.4,-2.6 L-1.6,-2.6 L-1.6,3.4 L-2.6,3.4 L-2.6,10.6 L-3.6,10.6 L-3.6,4 L-4.0,4 L-4.0,10.6 L-5.0,10.6 L-5.0,3.4 L-6.4,3.4 Z"/>
<path d="M1.6,-2.6 L5.5,-2.6 L6.8,4.6 L4.7,4.6 L4.7,10.6 L3.8,10.6 L3.8,4.8 L3.3,4.8 L3.3,10.6 L2.4,10.6 L2.4,4.6 L0.3,4.6 Z"/>
</g>
<circle cx="379.1" cy="609.8" r="16.0" class="" fill="url(#yel)" stroke="#1c1c00" stroke-width="1.7"/>
<g transform="translate(379.1 609.8)" fill="#140d03">
<circle cx="-0.1" cy="-8.5" r="2.8"/>
<path d="M-4.4,-2.7 L2.6,-2.7 L2.6,8.5 L4.5,9.5 L4.5,10.9 L-4.1,10.9 L-4.1,9.5 L-2.0,8.5 L-2.0,-1.1 L-4.4,-1.5 Z"/>
</g>
<text x="689.5" y="23" font-family="Liberation Sans, sans-serif" font-weight="bold" font-size="24" textLength="89.5" lengthAdjust="spacingAndGlyphs" fill="url(#stripe)">BIBMAP</text>
</svg>
<div class="t3">Wegbeschreibung</div>
<div class="sc sc1">2m</div><div class="sc sc2">2m</div>
</body></html>
